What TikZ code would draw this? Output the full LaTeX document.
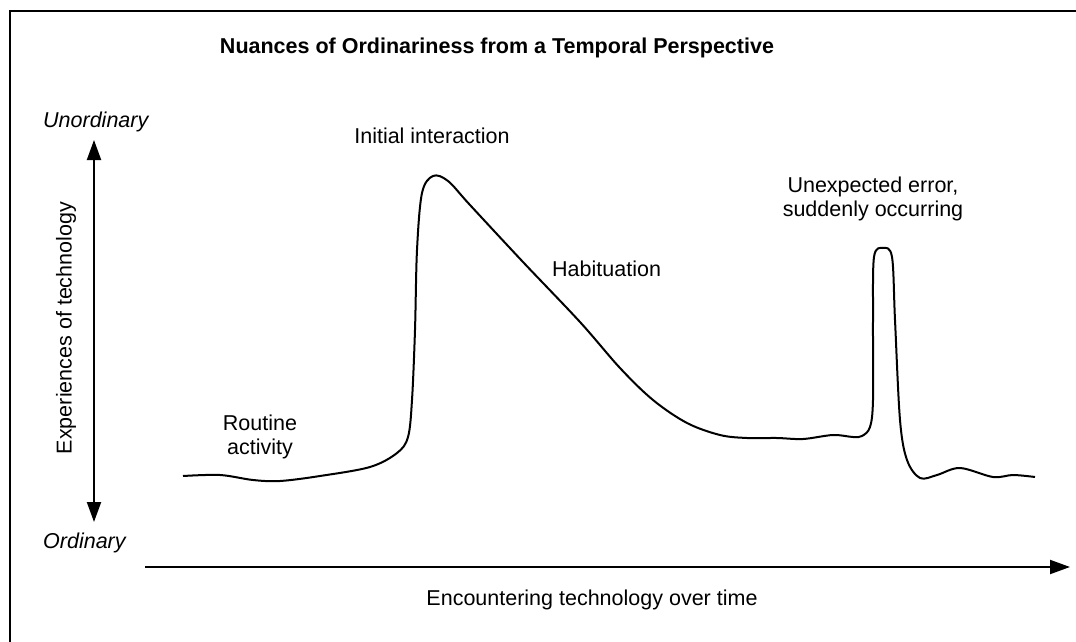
\documentclass[tikz,border=0pt]{standalone}
\usepackage{fontspec}
\setmainfont{Liberation Sans}
\usetikzlibrary{arrows.meta}

\begin{document}
\begin{tikzpicture}[x=1pt, y=-1pt,
   lbl/.style={font=\fontsize{21.5}{24}\selectfont, inner sep=0pt, align=center},
   axis/.style={line width=2pt, {Triangle[length=20pt,width=14pt]}-{Triangle[length=20pt,width=14pt]}}]
   \useasboundingbox (0,0) rectangle (1076,642);
   % frame (cut at right and bottom)
   \draw[line width=2pt] (1076,11) -- (10,11) -- (10,642);

   % title
   \node[lbl, font=\fontsize{21.5}{24}\selectfont\bfseries, anchor=base] (title) at (497,53)
      {Nuances of Ordinariness from a Temporal Perspective};

   % vertical axis
   \coordinate (ytop) at (94,140);
   \coordinate (ybot) at (94,522);
   \draw[axis] (ybot) -- (ytop);
   \node[lbl, font=\fontsize{21.5}{24}\selectfont\itshape, anchor=base west] (unord) at (43,127) {Unordinary};
   \node[lbl, font=\fontsize{21.5}{24}\selectfont\itshape, anchor=base west] (ord) at (43,548) {Ordinary};
   \node[lbl, rotate=90] (expl) at (66,328) {Experiences of technology};

   % horizontal axis
   \coordinate (xleft) at (145,567);
   \coordinate (xright) at (1070,567);
   \draw[line width=2pt, -{Triangle[length=20pt,width=14pt]}] (xleft) -- (xright);
   \node[lbl, anchor=base] (xlbl) at (592,605) {Encountering technology over time};

   % phases
   \node[lbl, anchor=north] (routine) at (260,415) {Routine\\activity};
   \node[lbl, anchor=base] (initial) at (432,143) {Initial interaction};
   \node[lbl, anchor=base west] (habit) at (552,276) {Habituation};
   \node[lbl, anchor=north] (error) at (873,177) {Unexpected error,\\suddenly occurring};

   % course of experience
   \draw[line width=2pt, line join=round] plot[smooth, tension=0.55] coordinates {
      (183,476) (220,475) (253,480) (280,481) (320,476) (370,467) (397,453)
      (408,437) (412,400) (415,330) (417,250) (422,193) (433,176) (448,181)
      (470,205) (523,262) (580,322) (620,368) (653,400)
      (687,423) (720,435) (747,438) (777,438) (803,439) (833,435) (853,437)
      (862,436) (870,427) (873,400) (873,320) (874,257) (883,248) (892,257)
      (895,320) (900,420) (907,460) (920,478) (937,475) (960,468) (993,477)
      (1013,475) (1035,477)};
\end{tikzpicture}
\end{document}
